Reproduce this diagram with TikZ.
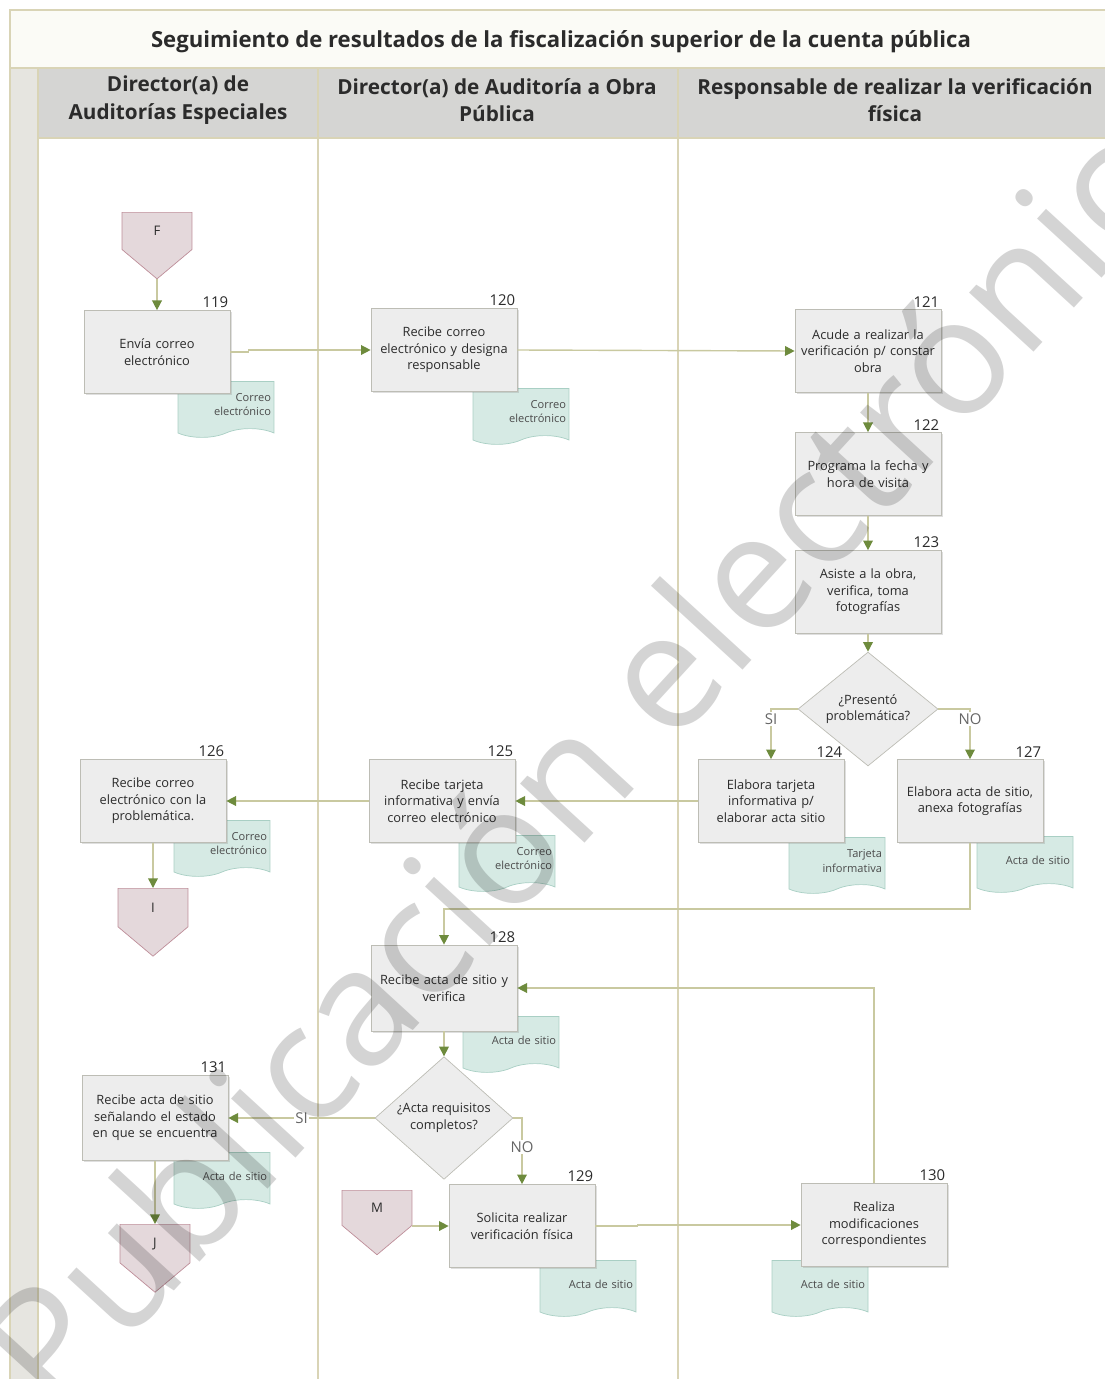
\documentclass[tikz,border=0pt]{standalone}
\usepackage{fontspec}
\setmainfont{Open Sans}
\usetikzlibrary{shapes.geometric,shapes.symbols,arrows.meta,shadows}

\definecolor{boxfill}{HTML}{EDEDED}
\definecolor{boxline}{HTML}{BDBDB5}
\definecolor{docfill}{HTML}{D6EAE4}
\definecolor{docline}{HTML}{A9CFC4}
\definecolor{pagefill}{HTML}{E4D8DB}
\definecolor{pageline}{HTML}{BE8E99}
\definecolor{flowline}{HTML}{C9C9A0}
\definecolor{tipgreen}{HTML}{6E8B3D}
\definecolor{laneline}{HTML}{D9D4B6}
\definecolor{titlefill}{HTML}{FBFBF6}
\definecolor{hdrfill}{HTML}{D5D5D3}
\definecolor{stripfill}{HTML}{E6E5E0}
\definecolor{inktext}{HTML}{2B2B2B}

\begin{document}
\begin{tikzpicture}[x=0.02cm, y=-0.02cm,
        actbox/.style={draw=boxline, fill=boxfill, minimum width=2.92cm, minimum height=1.66cm,
                       text width=2.84cm, align=center, inner sep=1pt, text=inktext,
                       font=\fontsize{7.3}{9.4}\selectfont,
                       drop shadow={opacity=0.25, shadow xshift=1pt, shadow yshift=-1pt}},
        choice/.style={diamond, draw=boxline, fill=boxfill, minimum width=2.8cm, minimum height=1.7cm,
                       inner sep=0pt, align=center, text=inktext, font=\fontsize{7.3}{9.4}\selectfont},
        docbox/.style={tape, tape bend top=none, tape bend bottom=in and out, tape bend height=5pt,
                       draw=docline, fill=docfill, minimum width=1.92cm, minimum height=1.12cm,
                       text width=1.8cm, align=right, inner sep=1pt, text=inktext!85,
                       font=\fontsize{6.3}{8}\selectfont},
        offpage/.style={signal, signal to=south, signal pointer angle=100, draw=pageline, fill=pagefill,
                        minimum width=1.4cm, minimum height=0.8cm, inner sep=0pt, text=inktext,
                        font=\fontsize{7.5}{8}\selectfont},
        numlbl/.style={anchor=south east, inner sep=1pt, text=inktext,
                       font=\fontsize{8.5}{9}\selectfont},
        answer/.style={fill=white, inner sep=1pt, text=gray!80!black, font=\fontsize{8.5}{9}\selectfont},
        flow/.style={draw=flowline, line width=0.8pt, -{Triangle[length=5.5pt, width=5.5pt, color=tipgreen]}},
        hdr/.style={align=center, text=inktext, font=\bfseries\fontsize{11.8}{15.5}\selectfont}]

    \useasboundingbox (0,0) rectangle (1105,1379);
    \fill[titlefill] (10,10) rectangle (1105,68);
    \fill[stripfill] (10,68) rectangle (38,1379);
    \fill[hdrfill] (38,68) rectangle (1105,138);
    \draw[laneline, line width=0.8pt] (1105,10) -- (10,10) -- (10,1379);
    \draw[laneline, line width=0.8pt] (10,68) -- (1105,68) (38,138) -- (1105,138);
    \foreach \lx in {38,318,678}
        \draw[laneline, line width=1pt] (\lx,68) -- (\lx,1379);

    \node[font=\bfseries\fontsize{12.6}{14}\selectfont, text=inktext] (title) at (561,42)
        {Seguimiento de resultados de la fiscalización superior de la cuenta pública};
    \node[hdr] (laneA) at (178,100) {Director(a) de\\Auditorías Especiales};
    \node[hdr] (laneB) at (497,100) {Director(a) de Auditoría a Obra\\Pública};
    \node[hdr] (laneC) at (895,100) {Responsable de realizar la verificación\\física};

    \node[docbox] (d119) at (226,405) {Correo\\electrónico};
    \node[docbox] (d120) at (521,412) {Correo\\electrónico};
    \node[docbox] (d124) at (837,861) {Tarjeta\\informativa};
    \node[docbox] (d127) at (1025,860) {Acta de sitio};
    \node[docbox] (d125) at (507,859) {Correo\\electrónico};
    \node[docbox] (d126) at (222,844) {Correo\\electrónico};
    \node[docbox] (d128) at (511,1040) {Acta de sitio};
    \node[docbox] (d131) at (222,1176) {Acta de sitio};
    \node[docbox] (d129) at (588,1284) {Acta de sitio};
    \node[docbox] (d130) at (820,1284) {Acta de sitio};

    \node[offpage, anchor=north] (cF) at (157,212) {F};
    \node[offpage, anchor=north] (cI) at (153,888) {I};
    \node[offpage, anchor=north] (cJ) at (155,1224) {J};
    \node[offpage, anchor=north] (cM) at (377,1190) {M};

    \node[actbox, label={[numlbl]north east:119}] (b119) at (157,352) {Envía correo\\electrónico};
    \node[actbox, label={[numlbl]north east:120}] (b120) at (444,350) {Recibe correo\\electrónico y designa\\responsable};
    \node[actbox, label={[numlbl]north east:121}] (b121) at (868,351) {Acude a realizar la\\verificación p/ constar\\obra};
    \node[actbox, label={[numlbl]north east:122}] (b122) at (868,474) {Programa la fecha y\\hora de visita};
    \node[actbox, label={[numlbl]north east:123}] (b123) at (868,592) {Asiste a la obra,\\verifica, toma\\fotografías};
    \node[choice] (q1) at (868,709) {¿Presentó\\problemática?};
    \node[actbox, label={[numlbl]north east:124}] (b124) at (771,801) {Elabora tarjeta\\informativa p/\\elaborar acta sitio};
    \node[actbox, label={[numlbl]north east:127}] (b127) at (970,801) {Elabora acta de sitio,\\anexa fotografías};
    \node[actbox, label={[numlbl]north east:125}] (b125) at (442,801) {Recibe tarjeta\\informativa y envía\\correo electrónico};
    \node[actbox, label={[numlbl]north east:126}] (b126) at (153,801) {Recibe correo\\electrónico con la\\problemática.};
    \node[actbox, minimum height=1.72cm, label={[numlbl]north east:128}] (b128) at (444,988) {Recibe acta de sitio y\\verifica};
    \node[choice, minimum width=2.76cm, minimum height=1.6cm] (q2) at (444,1118) {¿Acta requisitos\\completos?};
    \node[actbox, minimum height=1.7cm, label={[numlbl]north east:131}] (b131) at (155,1118) {Recibe acta de sitio\\señalando el estado\\en que se encuentra};
    \node[actbox, label={[numlbl]north east:129}] (b129) at (522,1226) {Solicita realizar\\verificación física};
    \node[actbox, label={[numlbl]north east:130}] (b130) at (874,1225) {Realiza\\modificaciones\\correspondientes};

    \draw[flow] (cF.south) -- (b119.north);
    \draw[flow] (b119.east) -- ++(18,0) |- (b120.west);
    \draw[flow] (b120.east) -- (b121.west);
    \draw[flow] (b121) -- (b122);
    \draw[flow] (b122) -- (b123);
    \draw[flow] (b123) -- (q1);
    \draw[flow] (q1.west) -| node[answer, pos=0.6] {SI} (b124.north);
    \draw[flow] (q1.east) -| node[answer, pos=0.6] {NO} (b127.north);
    \draw[flow] (b124) -- (b125);
    \draw[flow] (b125) -- (b126);
    \draw[flow] (b126.south) -- (cI.north);
    \draw[flow] (b127.south) -- ++(0,66) -| (b128.north);
    \draw[flow] (b128) -- (q2);
    \draw[flow] (q2.west) -- node[answer] {SI} (b131.east);
    \draw[flow] (q2.east) -| node[answer, pos=0.72] {NO} (b129.north);
    \draw[flow] (cM.east |- b129.west) -- (b129.west);
    \draw[flow] (b129.east) -- ++(42,0) |- (b130.west);
    \draw[flow] (b130.north) |- (b128.east);
    \draw[flow] (b131.south) -- (cJ.north);

    \node[rotate=47.5, text=black, text opacity=0.17, font=\fontsize{93}{96}\selectfont] (stamp)
        at (600,735) {Publicación electrónica};
\end{tikzpicture}
\end{document}
